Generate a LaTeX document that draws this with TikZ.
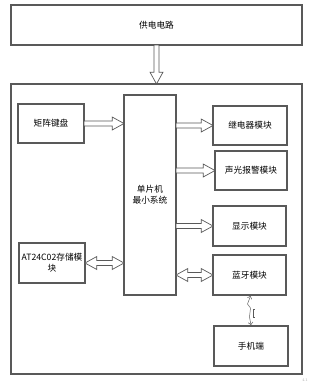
\documentclass[tikz,border=0pt]{standalone}
\usepackage{fontspec}
\newfontfamily\cjk{Noto Sans CJK SC}
\usepackage{tikz}
\usetikzlibrary{arrows.meta,calc,positioning}
\definecolor{boxgray}{rgb}{0.35,0.35,0.35}
% hollow block arrow, head at #2
\newcommand{\fatarrow}[2]{%
  \draw[fatline] (#1) -- ($(#1)!2.1pt!90:(#2)$) -- ($(#2)!10pt!(#1)!2.1pt!90:(#2)$)
    -- ($(#2)!10pt!(#1)!5.5pt!90:(#2)$) -- (#2) -- ($(#2)!10pt!(#1)!5.5pt!-90:(#2)$)
    -- ($(#2)!10pt!(#1)!2.1pt!-90:(#2)$) -- ($(#1)!2.1pt!-90:(#2)$) -- cycle;}
% hollow block arrow, heads at both ends
\newcommand{\fatboth}[2]{%
  \draw[fatline] (#1) -- ($(#1)!10pt!(#2)!5.5pt!90:(#2)$) -- ($(#1)!10pt!(#2)!2.1pt!90:(#2)$)
    -- ($(#2)!10pt!(#1)!2.1pt!90:(#2)$) -- ($(#2)!10pt!(#1)!5.5pt!90:(#2)$) -- (#2)
    -- ($(#2)!10pt!(#1)!5.5pt!-90:(#2)$) -- ($(#2)!10pt!(#1)!2.1pt!-90:(#2)$)
    -- ($(#1)!10pt!(#2)!2.1pt!-90:(#2)$) -- ($(#1)!10pt!(#2)!5.5pt!-90:(#2)$) -- cycle;}

\begin{document}
\begin{tikzpicture}[x=0.03cm,y=-0.03cm,
    blk/.style={draw=boxgray, line width=0.9pt, inner sep=0pt, outer sep=0pt,
      font=\cjk\fontsize{7.4}{9.5}\selectfont, align=center},
    fatline/.style={draw=boxgray, line width=0.6pt, fill=white, line join=miter}]
        % Fix the page size
        \useasboundingbox (0,0) rectangle (315,384);
        % Power supply and outer frame
        \node[blk, minimum width=8.73cm, minimum height=1.2cm] (supply) at (156.5,25) {供电电路};
        \node[blk, minimum width=8.73cm, minimum height=8.7cm] (frame) at (156.5,229) {};
        % Microcontroller core
        \node[blk, minimum width=1.56cm, minimum height=6cm] (mcu) at (150,195) {单片机\\最小系统};
        % Left-hand modules
        \node[blk, minimum width=1.98cm, minimum height=1.17cm] (keypad) at (51,123.5) {矩阵键盘};
        \node[blk, minimum width=1.98cm, minimum height=1.2cm] (eeprom) at (52,263) {AT24C02存储模\\块};
        % Right-hand modules
        \node[blk, minimum width=2.22cm, minimum height=1.17cm] (relay) at (250,125.5) {继电器模块};
        \node[blk, minimum width=2.16cm, minimum height=1.17cm] (alarm) at (251,170.5) {声光报警模块};
        \node[blk, minimum width=2.19cm, minimum height=1.2cm] (display) at (249.5,226) {显示模块};
        \node[blk, minimum width=2.19cm, minimum height=1.2cm] (bt) at (249.5,275) {蓝牙模块};
        \node[blk, minimum width=2.22cm, minimum height=1.2cm] (phone) at (251,346) {手机端};
        % Arrow ends on the core box
        \coordinate (keyin) at (mcu.west |- keypad.east);
        \coordinate (eein) at (mcu.west |- eeprom.east);
        \coordinate (relayout) at (mcu.east |- relay.west);
        \coordinate (alarmout) at (mcu.east |- alarm.west);
        \coordinate (dispout) at (mcu.east |- display.west);
        \coordinate (btout) at (mcu.east |- bt.west);
        % Hollow arrows
        \fatarrow{supply.south}{frame.north}
        \fatarrow{keypad.east}{keyin}
        \fatboth{eeprom.east}{eein}
        \fatarrow{relayout}{relay.west}
        \fatarrow{alarmout}{alarm.west}
        \fatarrow{dispout}{display.west}
        \fatboth{btout}{bt.west}
        % Wireless link
        \draw[boxgray, line width=0.4pt, {Straight Barb[length=2pt,width=4pt]}-{Straight Barb[length=2pt,width=4pt]}]
          ($(bt.south)+(1,1)$) -- ++(-3,8) -- ++(3,4) -- ++(-1,9) -- ($(phone.north)+(0,-1)$);
        \draw[boxgray, line width=0.4pt] (254.5,309) -- (253,309) -- (253,317) -- (254.5,317);
        % Page number
        \node[text=gray!60, font=\fontsize{3.5}{4}\selectfont] (pagenum) at (305,380) {41};
\end{tikzpicture}
\end{document}
